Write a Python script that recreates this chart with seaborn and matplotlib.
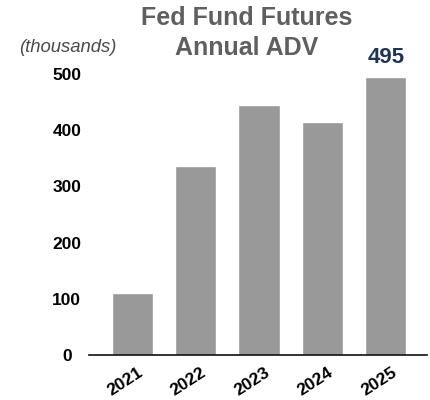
import matplotlib
matplotlib.use("Agg")
import matplotlib.pyplot as plt
import matplotlib.transforms as mtransforms
import seaborn as sns
import pandas as pd

years = ["2021", "2022", "2023", "2024", "2025"]
adv = [110, 336, 445, 415, 495]
y_ticks = [0, 100, 200, 300, 400, 500]

sns.set_style("white")
plt.rcParams["font.family"] = ["Liberation Sans", "DejaVu Sans"]

df = pd.DataFrame({"year": years, "adv": adv})

fig = plt.figure(figsize=(4.31, 4.0), dpi=100)
ax = fig.add_axes([0.2065, 0.1125, 0.7842, 0.7025])
sns.barplot(data=df, x="year", y="adv", color="#999999", width=0.65,
            saturation=1, ax=ax)

ax.set_xlim(-0.68, 4.65)
ax.set_ylim(0, 500)
ax.set_yticks(y_ticks)
ax.set_yticklabels([str(t) for t in y_ticks], fontsize=12.5,
                   fontweight="bold", color="black")
ax.tick_params(axis="y", length=0, pad=16)
for lbl in ax.get_yticklabels():
    lbl.set_horizontalalignment("center")

ax.tick_params(axis="x", length=0, pad=7)
shift = mtransforms.ScaledTranslation(-7 / 100, 0, fig.dpi_scale_trans)
for lbl in ax.get_xticklabels():
    lbl.set_rotation(33)
    lbl.set_fontweight("bold")
    lbl.set_fontsize(12.5)
    lbl.set_color("black")
    lbl.set_transform(lbl.get_transform() + shift)
ax.set_xlabel("")
ax.set_ylabel("")
sns.despine(ax=ax, left=True)
ax.spines["bottom"].set_color("#111111")
ax.spines["bottom"].set_linewidth(1.2)

ax.text(4, adv[-1] + 15, str(adv[-1]), ha="center", va="bottom", fontsize=16,
        fontweight="bold", color="#1c3557", clip_on=False)

fig.text(0.573, 0.985, "Fed Fund Futures\nAnnual ADV", ha="center", va="top",
         fontsize=18, fontweight="bold", color="#5f5f5f", linespacing=1.32)
fig.text(0.1578, 0.88, "(thousands)", ha="center", va="center", fontsize=13.3,
         style="italic", color="#4a4a4a")

fig.savefig("out.png", dpi=100)
